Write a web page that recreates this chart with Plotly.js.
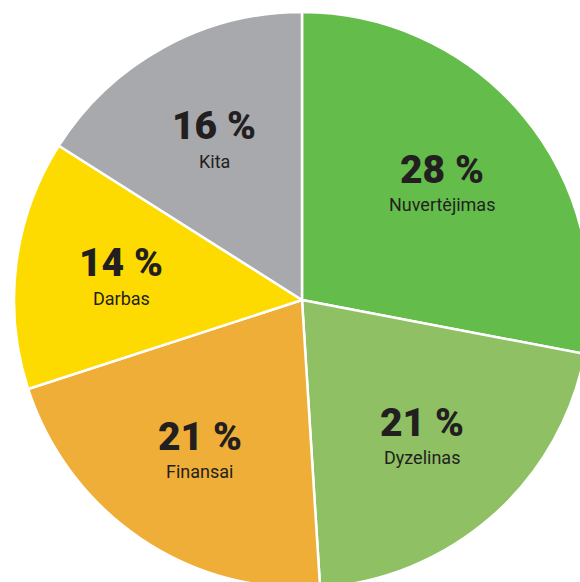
<!DOCTYPE html>
<html>
<head>
<meta charset="utf-8">
<script src="https://cdn.plot.ly/plotly-3.0.1.min.js"></script>
<style>
html,body{margin:0;padding:0;overflow:hidden;background:#fff;}
#chart{width:604px;height:600px;}
</style>
</head>
<body>
<div id="chart"></div>
<script>
const labels = ["Nuvertėjimas", "Dyzelinas", "Finansai", "Darbas", "Kita"];
const values = [28, 21, 21, 14, 16];
const colors = ["#64bd4a", "#8fc164", "#efae37", "#fedb00", "#a8a9ac"];

const total = values.reduce((a, b) => a + b, 0);
const annotations = [];
let cum = 0;
const rFrac = 0.316;
values.forEach((v, i) => {
  const mid = (cum + v / 2) / total * 2 * Math.PI;
  cum += v;
  const x = 0.5 + rFrac * Math.sin(mid);
  const y = 0.5 + rFrac * Math.cos(mid);
  annotations.push({
    x: x, y: y, xref: "paper", yref: "paper", showarrow: false,
    xanchor: "center", yanchor: "middle",
    text: v + " %", yshift: 14,
    font: {family: "Roboto, 'DejaVu Sans', sans-serif", size: 39, weight: 900, color: "#231f20"}
  });
  annotations.push({
    x: x, y: y, xref: "paper", yref: "paper", showarrow: false,
    xanchor: "center", yanchor: "middle",
    text: labels[i], yshift: -21,
    font: {family: "Roboto, 'DejaVu Sans', sans-serif", size: 18, color: "#231f20"}
  });
});

Plotly.newPlot("chart", [{
  type: "pie",
  labels: labels,
  values: values,
  sort: false,
  direction: "clockwise",
  rotation: 0,
  marker: {colors: colors, line: {color: "#ffffff", width: 2.5}},
  textinfo: "none",
  hoverinfo: "none",
  showlegend: false
}], {
  width: 604, height: 600,
  margin: {l: 14, r: 14, t: 12, b: 12},
  paper_bgcolor: "#ffffff",
  showlegend: false,
  annotations: annotations
}, {displayModeBar: false, staticPlot: true});
</script>
</body>
</html>
